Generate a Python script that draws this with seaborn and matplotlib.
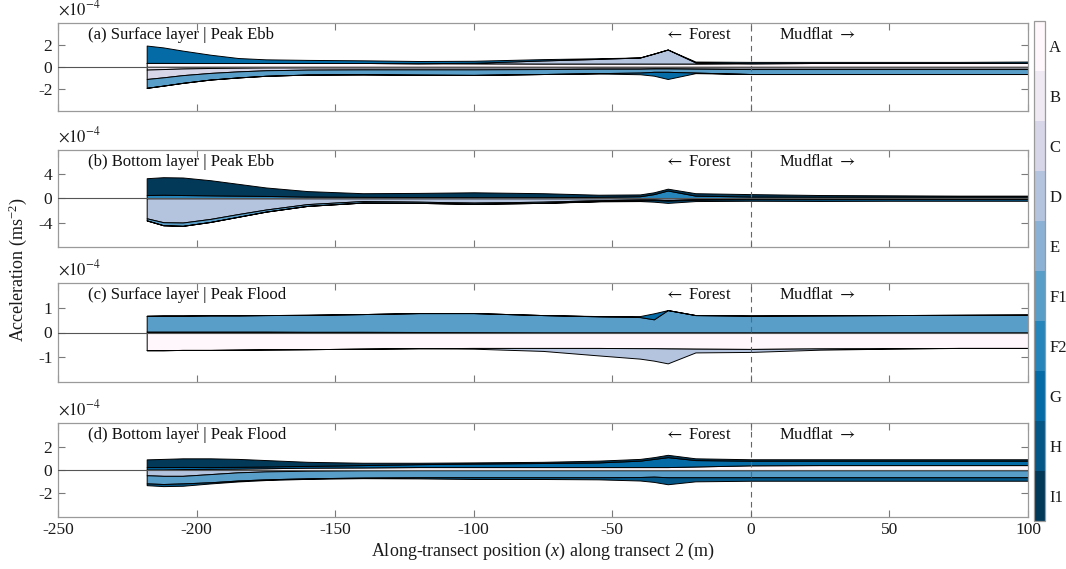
import numpy as np
import matplotlib
matplotlib.use("Agg")
import matplotlib.pyplot as plt
import seaborn as sns
from matplotlib.colors import ListedColormap, BoundaryNorm
from matplotlib.cm import ScalarMappable

# ---------------- data (acceleration in units of 1e-4 m s^-2) ----------------
categories = ["A", "B", "C", "D", "E", "F1", "F2", "G", "H", "I1"]
x_pos = [-218, -212, -205, -195, -185, -175, -160, -140, -120, -100, -75,
         -55, -40, -35, -30, -20, 0, 25, 50, 75, 100]

# (a) Surface layer | Peak Ebb
a_pos_A = [0.36, 0.36, 0.35, 0.35, 0.35, 0.35, 0.35, 0.35, 0.33, 0.32, 0.30,
           0.30, 0.30, 0.30, 0.30, 0.30, 0.33, 0.35, 0.35, 0.35, 0.36]
a_pos_D = [0, 0, 0, 0, 0, 0, 0, 0, 0, 0.05, 0.28,
           0.42, 0.55, 0.90, 1.27, 0.10, 0, 0, 0, 0, 0]
a_pos_G = [1.57, 1.40, 1.12, 0.75, 0.45, 0.33, 0.28, 0.24, 0.20, 0.18, 0.12,
           0.06, 0, 0, 0, 0.08, 0.12, 0.10, 0.10, 0.10, 0.12]
a_neg_B = [0.25, 0.20, 0.15, 0.10, 0.08, 0.06, 0.05, 0.05, 0.05, 0.05, 0.05,
           0.05, 0.05, 0.05, 0.05, 0.05, 0.05, 0.05, 0.05, 0.05, 0.05]
a_neg_C = [0.85, 0.75, 0.60, 0.45, 0.33, 0.25, 0.20, 0.18, 0.18, 0.18, 0.15,
           0.12, 0.12, 0.10, 0.10, 0.12, 0.15, 0.15, 0.15, 0.15, 0.15]
a_neg_F1 = [0.80, 0.75, 0.70, 0.60, 0.55, 0.50, 0.45, 0.45, 0.48, 0.50, 0.45,
            0.40, 0.35, 0.30, 0.30, 0.35, 0.45, 0.45, 0.45, 0.45, 0.45]
a_neg_G = [0, 0, 0, 0, 0, 0, 0, 0, 0, 0, 0,
           0.03, 0.15, 0.35, 0.65, 0.05, 0, 0, 0, 0, 0]

# (b) Bottom layer | Peak Ebb
b_pos_F2 = [0.55, 0.60, 0.55, 0.50, 0.45, 0.40, 0.30, 0.25, 0.22, 0.20, 0.20,
            0.25, 0.35, 0.70, 1.30, 0.45, 0.30, 0.28, 0.28, 0.28, 0.28]
b_pos_I1 = [2.78, 2.90, 2.90, 2.50, 1.95, 1.40, 0.90, 0.60, 0.68, 0.80, 0.65,
            0.35, 0.30, 0.30, 0.30, 0.40, 0.40, 0.27, 0.22, 0.17, 0.17]
b_neg_D = [3.30, 3.95, 4.00, 3.40, 2.60, 1.85, 0.95, 0.45, 0.55, 0.70, 0.55,
           0.30, 0.20, 0.20, 0.30, 0.15, 0.10, 0.08, 0.05, 0.05, 0.05]
b_neg_F1 = [0.35, 0.50, 0.55, 0.50, 0.45, 0.35, 0.30, 0.25, 0.20, 0.20, 0.20,
            0.15, 0.10, 0.10, 0.10, 0.10, 0.05, 0.05, 0.05, 0.05, 0.05]
b_neg_H = [0, 0, 0, 0, 0, 0, 0, 0, 0, 0, 0,
           0.05, 0.15, 0.25, 0.35, 0.20, 0.25, 0.30, 0.30, 0.30, 0.30]

# (c) Surface layer | Peak Flood
c_pos_C = [0.04, 0.04, 0.04, 0.04, 0.04, 0.04, 0.03, 0.03, 0.02, 0.01, 0,
           0, 0, 0, 0, 0, 0, 0, 0, 0, 0]
c_pos_F1 = [0.63, 0.64, 0.64, 0.65, 0.65, 0.66, 0.68, 0.71, 0.76, 0.77, 0.70,
            0.65, 0.62, 0.53, 0.90, 0.70, 0.68, 0.69, 0.70, 0.71, 0.72]
c_pos_G = [0, 0, 0, 0, 0, 0, 0, 0, 0, 0, 0,
           0.01, 0.04, 0.24, 0, 0, 0, 0, 0, 0, 0]
c_neg_A = [0.71, 0.71, 0.70, 0.70, 0.69, 0.68, 0.67, 0.65, 0.63, 0.62, 0.62,
           0.62, 0.63, 0.63, 0.64, 0.65, 0.66, 0.64, 0.63, 0.62, 0.62]
c_neg_D = [0, 0, 0, 0, 0, 0, 0, 0, 0, 0.03, 0.12,
           0.30, 0.42, 0.50, 0.60, 0.15, 0.12, 0.05, 0.02, 0, 0]

# (d) Bottom layer | Peak Flood
d_pos_A = [0.05, 0.05, 0.08, 0.10, 0.12, 0.15, 0.20, 0.22, 0.25, 0.25, 0.25,
           0.25, 0.25, 0.25, 0.25, 0.30, 0.40, 0.42, 0.42, 0.42, 0.42]
d_pos_G = [0.20, 0.20, 0.18, 0.15, 0.15, 0.15, 0.15, 0.20, 0.25, 0.30, 0.35,
           0.40, 0.55, 0.70, 0.85, 0.55, 0.40, 0.38, 0.38, 0.38, 0.38]
d_pos_I1 = [0.66, 0.70, 0.74, 0.75, 0.68, 0.55, 0.35, 0.20, 0.12, 0.10, 0.10,
            0.15, 0.15, 0.15, 0.20, 0.15, 0.12, 0.12, 0.12, 0.12, 0.12]
d_neg_D = [0.45, 0.50, 0.50, 0.35, 0.20, 0.12, 0.06, 0.03, 0.02, 0.02, 0.02,
           0.02, 0.02, 0.02, 0.02, 0.02, 0.02, 0.02, 0.02, 0.02, 0.02]
d_neg_F1 = [0.70, 0.70, 0.65, 0.70, 0.70, 0.68, 0.65, 0.62, 0.60, 0.60, 0.60,
            0.60, 0.58, 0.55, 0.60, 0.60, 0.60, 0.60, 0.60, 0.60, 0.60]
d_neg_H = [0.15, 0.18, 0.20, 0.10, 0.08, 0.06, 0.05, 0.05, 0.10, 0.15, 0.15,
           0.18, 0.30, 0.45, 0.60, 0.35, 0.30, 0.30, 0.30, 0.30, 0.30]

panel_titles = ["(a) Surface layer | Peak Ebb", "(b) Bottom layer | Peak Ebb",
                "(c) Surface layer | Peak Flood", "(d) Bottom layer | Peak Flood"]
y_limits = [4, 8, 2, 4]
y_ticks = [[-2, 0, 2], [-4, 0, 4], [-1, 0, 1], [-2, 0, 2]]
x_ticks = [-250, -200, -150, -100, -50, 0, 50, 100]

panels = [
    ({"A": a_pos_A, "D": a_pos_D, "G": a_pos_G},
     {"B": a_neg_B, "C": a_neg_C, "F1": a_neg_F1, "G": a_neg_G}),
    ({"F2": b_pos_F2, "I1": b_pos_I1},
     {"D": b_neg_D, "F1": b_neg_F1, "H": b_neg_H}),
    ({"C": c_pos_C, "F1": c_pos_F1, "G": c_pos_G},
     {"A": c_neg_A, "D": c_neg_D}),
    ({"A": d_pos_A, "G": d_pos_G, "I1": d_pos_I1},
     {"D": d_neg_D, "F1": d_neg_F1, "H": d_neg_H}),
]

# ---------------- style ----------------
sns.set_theme(style="ticks")
plt.rcParams["font.family"] = ["Liberation Serif", "DejaVu Serif"]
plt.rcParams["mathtext.fontset"] = "custom"
plt.rcParams["mathtext.rm"] = "Liberation Serif"
plt.rcParams["mathtext.it"] = "Liberation Serif:italic"
plt.rcParams["axes.unicode_minus"] = False

cmap_full = sns.color_palette("PuBu", as_cmap=True)
cat_colors = [cmap_full(v) for v in np.linspace(0, 1, len(categories))]
color_of = dict(zip(categories, cat_colors))

W, H = 1066, 569
fig = plt.figure(figsize=(W / 100, H / 100), dpi=100, facecolor="white")

# axes boxes in pixels: (top, bottom)
boxes = [(22.7, 111.0), (150.0, 246.7), (282.7, 382.3), (423.3, 516.7)]
left_px, right_px = 58, 1028
spine_col = "#9a9a9a"

x = np.array(x_pos, dtype=float)


def draw_stack(ax, series, sign):
    base = np.zeros(len(x))
    for cat in categories:
        if cat not in series:
            continue
        top = base + sign * np.asarray(series[cat], dtype=float)
        ax.fill_between(x, base, top, facecolor=color_of[cat],
                        edgecolor="black", linewidth=0.7, zorder=2)
        base = top


axes = []
for i, ((pos, neg), (t, b)) in enumerate(zip(panels, boxes)):
    ax = fig.add_axes([left_px / W, 1 - b / H, (right_px - left_px) / W, (b - t) / H])
    axes.append(ax)
    draw_stack(ax, pos, 1)
    draw_stack(ax, neg, -1)
    sns.lineplot(x=[-250, 100], y=[0, 0], ax=ax, color="#555555", lw=0.8, zorder=3)
    ax.axvline(0, color="#666666", lw=0.8, ls=(0, (5, 4)), zorder=4)
    ax.set_xlim(-250, 100)
    ax.set_ylim(-y_limits[i], y_limits[i])
    ax.set_yticks(y_ticks[i])
    ax.set_xticks(x_ticks)
    ax.tick_params(direction="in", top=True, right=True, length=5, width=0.8,
                   color="#7a7a7a", labelsize=12.5, labelcolor="#1a1a1a", pad=4)
    for s in ax.spines.values():
        s.set_color(spine_col)
        s.set_linewidth(0.9)
    if i < 3:
        ax.set_xticklabels([])
    ax.set_xlabel("")
    ax.set_ylabel("")
    ax.annotate(panel_titles[i], xy=(0, 1), xycoords="axes fraction",
                xytext=(30, -12), textcoords="offset pixels",
                ha="left", va="center", fontsize=12, color="#111111")
    ax.annotate(r"$\leftarrow$ Forest", xy=(-7, 1), xycoords=("data", "axes fraction"),
                xytext=(0, -12), textcoords="offset pixels", math_fontfamily="stix",
                ha="right", va="center", fontsize=12, color="#111111")
    ax.annotate(r"Mudflat $\rightarrow$", xy=(10, 1), xycoords=("data", "axes fraction"),
                xytext=(0, -12), textcoords="offset pixels", math_fontfamily="stix",
                ha="left", va="center", fontsize=12, color="#111111")
    ax.annotate(r"$\times10^{-4}$", xy=(0, 1), xycoords="axes fraction",
                xytext=(0, 4), textcoords="offset pixels", math_fontfamily="stix",
                ha="left", va="bottom", fontsize=12, color="#1a1a1a")

axes[-1].set_xticklabels([str(v) for v in x_ticks])
fig.text(543 / W, 1 - 551 / H, "Along-transect position ($x$) along transect 2 (m)",
         ha="center", va="center", fontsize=13, color="#1a1a1a")
fig.text(18 / W, 1 - 270 / H, "Acceleration (ms$^{-2}$)", rotation=90,
         ha="center", va="center", fontsize=13, color="#1a1a1a")

# ---------------- colorbar ----------------
cax = fig.add_axes([1034 / W, 1 - 521 / H, 11 / W, 500 / H])
cmap = ListedColormap(cat_colors)
norm = BoundaryNorm(np.arange(len(categories) + 1), len(categories))
cb = fig.colorbar(ScalarMappable(norm=norm, cmap=cmap), cax=cax)
cb.minorticks_off()
cb.set_ticks(np.arange(len(categories)) + 0.5)
cb.set_ticklabels(categories)
cax.invert_yaxis()
cax.tick_params(which="both", direction="in", length=3, color="#6a6a6a",
                labelsize=12, labelcolor="#1a1a1a", pad=3)
cax.tick_params(which="minor", length=0)
cb.outline.set_edgecolor(spine_col)
cb.outline.set_linewidth(0.9)

fig.savefig("out.png", dpi=100, facecolor="white")
